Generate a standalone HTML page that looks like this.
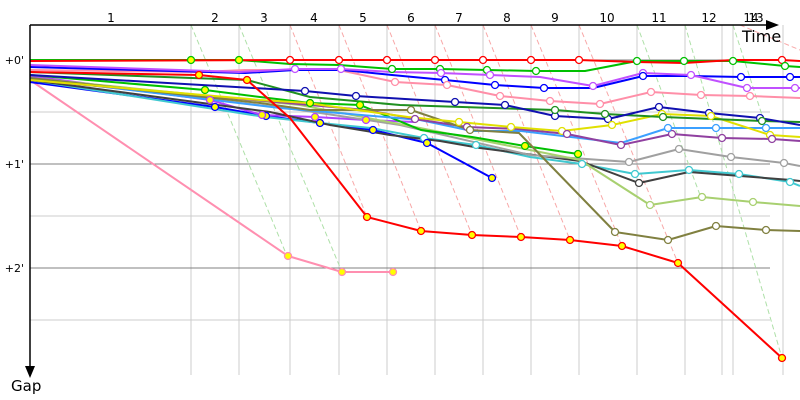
<!DOCTYPE html>
<html><head><meta charset="utf-8"><style>
html,body{margin:0;padding:0;background:#fff;}
svg{display:block;font-family:"DejaVu Sans","Liberation Sans",sans-serif;}
</style></head><body>
<svg width="800" height="400" viewBox="0 0 800 400" xmlns="http://www.w3.org/2000/svg">
<g stroke="#ccc" stroke-width="1">
<line x1="191" y1="25" x2="191" y2="375"/><line x1="239" y1="25" x2="239" y2="375"/>
<line x1="290" y1="25" x2="290" y2="375"/><line x1="339" y1="25" x2="339" y2="375"/>
<line x1="387" y1="25" x2="387" y2="375"/><line x1="435" y1="25" x2="435" y2="375"/>
<line x1="483" y1="25" x2="483" y2="375"/><line x1="531" y1="25" x2="531" y2="375"/>
<line x1="579" y1="25" x2="579" y2="375"/><line x1="637" y1="25" x2="637" y2="375"/>
<line x1="685" y1="25" x2="685" y2="375"/><line x1="722" y1="25" x2="722" y2="375"/>
<line x1="733" y1="25" x2="733" y2="375"/><line x1="783" y1="25" x2="783" y2="375"/>
<line x1="30" y1="112" x2="770" y2="112"/><line x1="30" y1="216" x2="770" y2="216"/><line x1="30" y1="320" x2="770" y2="320"/>
</g>
<g stroke="#808080" stroke-width="1">
<line x1="30" y1="60" x2="770" y2="60"/><line x1="30" y1="164" x2="770" y2="164"/><line x1="30" y1="268" x2="770" y2="268"/>
</g>
<g fill="none" stroke-width="1" stroke-dasharray="5,3">
<g stroke="#aee0a8">
<polyline points="191,25 287,256"/><polyline points="239,25 342,272"/>
<polyline points="637,25 700,195"/><polyline points="685,25 782,358"/><polyline points="733,25 770,140"/>
</g>
<g stroke="#f8a8a8">
<polyline points="290,25 367,217"/><polyline points="339,25 421,231"/><polyline points="387,25 472,235"/>
<polyline points="435,25 521,237"/><polyline points="483,25 570,240"/><polyline points="531,25 622,246"/>
<polyline points="579,25 678,263"/><polyline points="740,25 800,50"/>
</g>
</g>
<g fill="none" stroke-width="2" stroke-linejoin="round">
<polyline stroke="#ff8fb0" points="30,80 288,256 342,272 393,272"/>
<polyline stroke="#0000ff" points="30,82 215,107 266,116 320,123 373,130 427,143 492,178"/>
<polyline stroke="#b040ff" points="30,76 210,100 262,115 315,117 366,120 415,122"/>
<polyline stroke="#40c8d0" points="30,80 265,117 320,123 371,128 424,138 476,145 530,157 582,164 635,174 689,170 739,174 790,182 800,186"/>
<polyline stroke="#404040" points="30,80 270,112 330,125 390,135 440,141 480,148 580,161 639,183 689,172 791,180 800,181"/>
<polyline stroke="#a0a0a0" points="30,78 300,110 400,125 530,155 629,162 679,149 731,157 784,163 800,166"/>
<polyline stroke="#a8d070" points="30,78 300,105 420,128 530,150 580,160 650,205 702,197 753,202 800,206"/>
<polyline stroke="#00c000" points="30,75 205,90 260,97 310,103 360,105 421,130 472,137 525,146 578,154"/>
<polyline stroke="#3ba0ff" points="30,78 280,108 420,120 472,131 521,131 621,143 668,128 716,128 766,128 800,128"/>
<polyline stroke="#9040a0" points="30,80 366,110 415,119 467,127 518,129 567,134 621,145 672,134 722,138 772,139 800,141"/>
<polyline stroke="#808040" points="30,78 260,103 310,110 411,110 470,130 519,133 615,232 668,240 716,226 766,230 800,231"/>
<polyline stroke="#e0e000" points="30,80 260,100 308,103 357,110 408,117 459,122 511,127 562,131 612,125 662,114 711,116 770,135 800,137"/>
<polyline stroke="#209020" points="30,72 247,80 310,97 400,105 555,110 605,114 663,117 762,121 800,122"/>
<polyline stroke="#1010b0" points="30,75 305,91 356,96 405,99 455,102 505,105 555,116 608,119 659,107 709,113 760,118 800,125"/>
<polyline stroke="#ff0000" points="30,72 199,75 247,80 290,118 367,217 421,231 472,235 521,237 570,240 622,246 678,263 782,358"/>
<polyline stroke="#ff8fa8" points="30,70 200,72 245,70 339,70 395,82 447,85 500,96 550,101 600,104 651,92 701,95 750,96 800,98"/>
<polyline stroke="#0000ff" points="30,67 245,73 295,70 343,70 392,75 445,80 495,85 544,88 593,88 643,76 691,76 741,77 790,77 800,77"/>
<polyline stroke="#c050ff" points="30,65 239,72 295,69 341,69 392,72 441,73 490,75 540,77 593,86 643,73 691,75 747,88 795,88 800,88"/>
<polyline stroke="#00c000" points="30,60 191,60 239,60 290,64 339,65 392,69 440,69 487,70 536,71 585,71 637,61 684,61 733,61 785,66 800,67"/>
<polyline stroke="#ff0000" points="30,61 290,60 339,60 387,60 435,60 483,60 531,60 579,60 637,62 684,63 733,60 782,60 800,61"/>
</g>
<g stroke-width="1.3">
<g fill="#fff" stroke="#ff0000"><circle cx="290" cy="60" r="3.5"/><circle cx="339" cy="60" r="3.5"/><circle cx="387" cy="60" r="3.5"/><circle cx="435" cy="60" r="3.5"/><circle cx="483" cy="60" r="3.5"/><circle cx="531" cy="60" r="3.5"/><circle cx="579" cy="60" r="3.5"/><circle cx="782" cy="60" r="3.5"/></g>
<g fill="#fff" stroke="#00c000"><circle cx="392" cy="69" r="3.5"/><circle cx="440" cy="69" r="3.5"/><circle cx="487" cy="70" r="3.5"/><circle cx="536" cy="71" r="3.5"/><circle cx="637" cy="61" r="3.5"/><circle cx="684" cy="61" r="3.5"/><circle cx="733" cy="61" r="3.5"/><circle cx="785" cy="66" r="3.5"/></g>
<g fill="#fff" stroke="#c050ff"><circle cx="295" cy="69" r="3.5"/><circle cx="341" cy="69" r="3.5"/><circle cx="441" cy="73" r="3.5"/><circle cx="490" cy="75" r="3.5"/><circle cx="593" cy="86" r="3.5"/><circle cx="643" cy="73" r="3.5"/><circle cx="691" cy="75" r="3.5"/><circle cx="747" cy="88" r="3.5"/><circle cx="795" cy="88" r="3.5"/></g>
<g fill="#fff" stroke="#0000ff"><circle cx="445" cy="80" r="3.5"/><circle cx="495" cy="85" r="3.5"/><circle cx="544" cy="88" r="3.5"/><circle cx="643" cy="76" r="3.5"/><circle cx="741" cy="77" r="3.5"/><circle cx="790" cy="77" r="3.5"/></g>
<g fill="#fff" stroke="#ff8fa8"><circle cx="395" cy="82" r="3.5"/><circle cx="447" cy="85" r="3.5"/><circle cx="500" cy="96" r="3.5"/><circle cx="550" cy="101" r="3.5"/><circle cx="600" cy="104" r="3.5"/><circle cx="651" cy="92" r="3.5"/><circle cx="701" cy="95" r="3.5"/><circle cx="750" cy="96" r="3.5"/></g>
<g fill="#fff" stroke="#1010b0"><circle cx="305" cy="91" r="3.5"/><circle cx="356" cy="96" r="3.5"/><circle cx="455" cy="102" r="3.5"/><circle cx="505" cy="105" r="3.5"/><circle cx="555" cy="116" r="3.5"/><circle cx="608" cy="119" r="3.5"/><circle cx="659" cy="107" r="3.5"/><circle cx="709" cy="113" r="3.5"/><circle cx="760" cy="118" r="3.5"/></g>
<g fill="#fff" stroke="#e0e000"><circle cx="459" cy="122" r="3.5"/><circle cx="511" cy="127" r="3.5"/><circle cx="562" cy="131" r="3.5"/><circle cx="612" cy="125" r="3.5"/><circle cx="662" cy="114" r="3.5"/><circle cx="711" cy="116" r="3.5"/><circle cx="770" cy="135" r="3.5"/></g>
<g fill="#fff" stroke="#209020"><circle cx="555" cy="110" r="3.5"/><circle cx="605" cy="114" r="3.5"/><circle cx="663" cy="117" r="3.5"/><circle cx="762" cy="121" r="3.5"/></g>
<g fill="#fff" stroke="#9040a0"><circle cx="415" cy="119" r="3.5"/><circle cx="467" cy="127" r="3.5"/><circle cx="567" cy="134" r="3.5"/><circle cx="621" cy="145" r="3.5"/><circle cx="672" cy="134" r="3.5"/><circle cx="722" cy="138" r="3.5"/><circle cx="772" cy="139" r="3.5"/></g>
<g fill="#fff" stroke="#3ba0ff"><circle cx="668" cy="128" r="3.5"/><circle cx="716" cy="128" r="3.5"/><circle cx="766" cy="128" r="3.5"/></g>
<g fill="#fff" stroke="#808040"><circle cx="411" cy="110" r="3.5"/><circle cx="470" cy="130" r="3.5"/><circle cx="615" cy="232" r="3.5"/><circle cx="668" cy="240" r="3.5"/><circle cx="716" cy="226" r="3.5"/><circle cx="766" cy="230" r="3.5"/></g>
<g fill="#fff" stroke="#a0a0a0"><circle cx="629" cy="162" r="3.5"/><circle cx="679" cy="149" r="3.5"/><circle cx="731" cy="157" r="3.5"/><circle cx="784" cy="163" r="3.5"/></g>
<g fill="#fff" stroke="#40c8d0"><circle cx="424" cy="138" r="3.5"/><circle cx="476" cy="145" r="3.5"/><circle cx="582" cy="164" r="3.5"/><circle cx="635" cy="174" r="3.5"/><circle cx="689" cy="170" r="3.5"/><circle cx="739" cy="174" r="3.5"/><circle cx="790" cy="182" r="3.5"/></g>
<g fill="#fff" stroke="#404040"><circle cx="639" cy="183" r="3.5"/></g>
<g fill="#fff" stroke="#a8d070"><circle cx="650" cy="205" r="3.5"/><circle cx="702" cy="197" r="3.5"/><circle cx="753" cy="202" r="3.5"/></g>
<g fill="#ffff00" stroke="#ff0000"><circle cx="367" cy="217" r="3.5"/><circle cx="421" cy="231" r="3.5"/><circle cx="472" cy="235" r="3.5"/><circle cx="521" cy="237" r="3.5"/><circle cx="570" cy="240" r="3.5"/><circle cx="622" cy="246" r="3.5"/><circle cx="678" cy="263" r="3.5"/><circle cx="782" cy="358" r="3.5"/><circle cx="199" cy="75" r="3.5"/><circle cx="247" cy="80" r="3.5"/></g>
<g fill="#ffff00" stroke="#ff8fb0"><circle cx="288" cy="256" r="3.5"/><circle cx="342" cy="272" r="3.5"/><circle cx="393" cy="272" r="3.5"/></g>
<g fill="#ffff00" stroke="#00c000"><circle cx="191" cy="60" r="3.5"/><circle cx="239" cy="60" r="3.5"/><circle cx="205" cy="90" r="3.5"/><circle cx="310" cy="103" r="3.5"/><circle cx="360" cy="105" r="3.5"/><circle cx="525" cy="146" r="3.5"/><circle cx="578" cy="154" r="3.5"/></g>
<g fill="#ffff00" stroke="#0000ff"><circle cx="215" cy="107" r="3.5"/><circle cx="266" cy="116" r="3.5"/><circle cx="320" cy="123" r="3.5"/><circle cx="373" cy="130" r="3.5"/><circle cx="427" cy="143" r="3.5"/><circle cx="492" cy="178" r="3.5"/></g>
<g fill="#ffff00" stroke="#b040ff"><circle cx="210" cy="100" r="3.5"/><circle cx="262" cy="115" r="3.5"/><circle cx="315" cy="117" r="3.5"/><circle cx="366" cy="120" r="3.5"/></g>
</g>
<g stroke="#000" stroke-width="1.5">
<line x1="30" y1="25" x2="770" y2="25"/><line x1="30" y1="25" x2="30" y2="370"/>
</g>
<polygon points="766,20 779,25 766,30" fill="#000"/>
<polygon points="25,366 30,378 35,366" fill="#000"/>
<g font-size="12" fill="#000" text-anchor="middle">
<text x="111" y="22">1</text><text x="215" y="22">2</text><text x="264" y="22">3</text><text x="314" y="22">4</text>
<text x="363" y="22">5</text><text x="411" y="22">6</text><text x="459" y="22">7</text><text x="507" y="22">8</text>
<text x="555" y="22">9</text><text x="607" y="22">10</text><text x="659" y="22">11</text><text x="709" y="22">12</text>
<text x="751" y="22">14</text><text x="756" y="22">13</text>
</g>
<g font-size="11" fill="#000" text-anchor="end">
<text x="24" y="64">+0'</text><text x="24" y="168">+1'</text><text x="24" y="272">+2'</text>
</g>
<text x="742" y="42" font-size="16" fill="#000">Time</text>
<text x="11" y="391" font-size="15" fill="#000">Gap</text>
</svg>
</body></html>
